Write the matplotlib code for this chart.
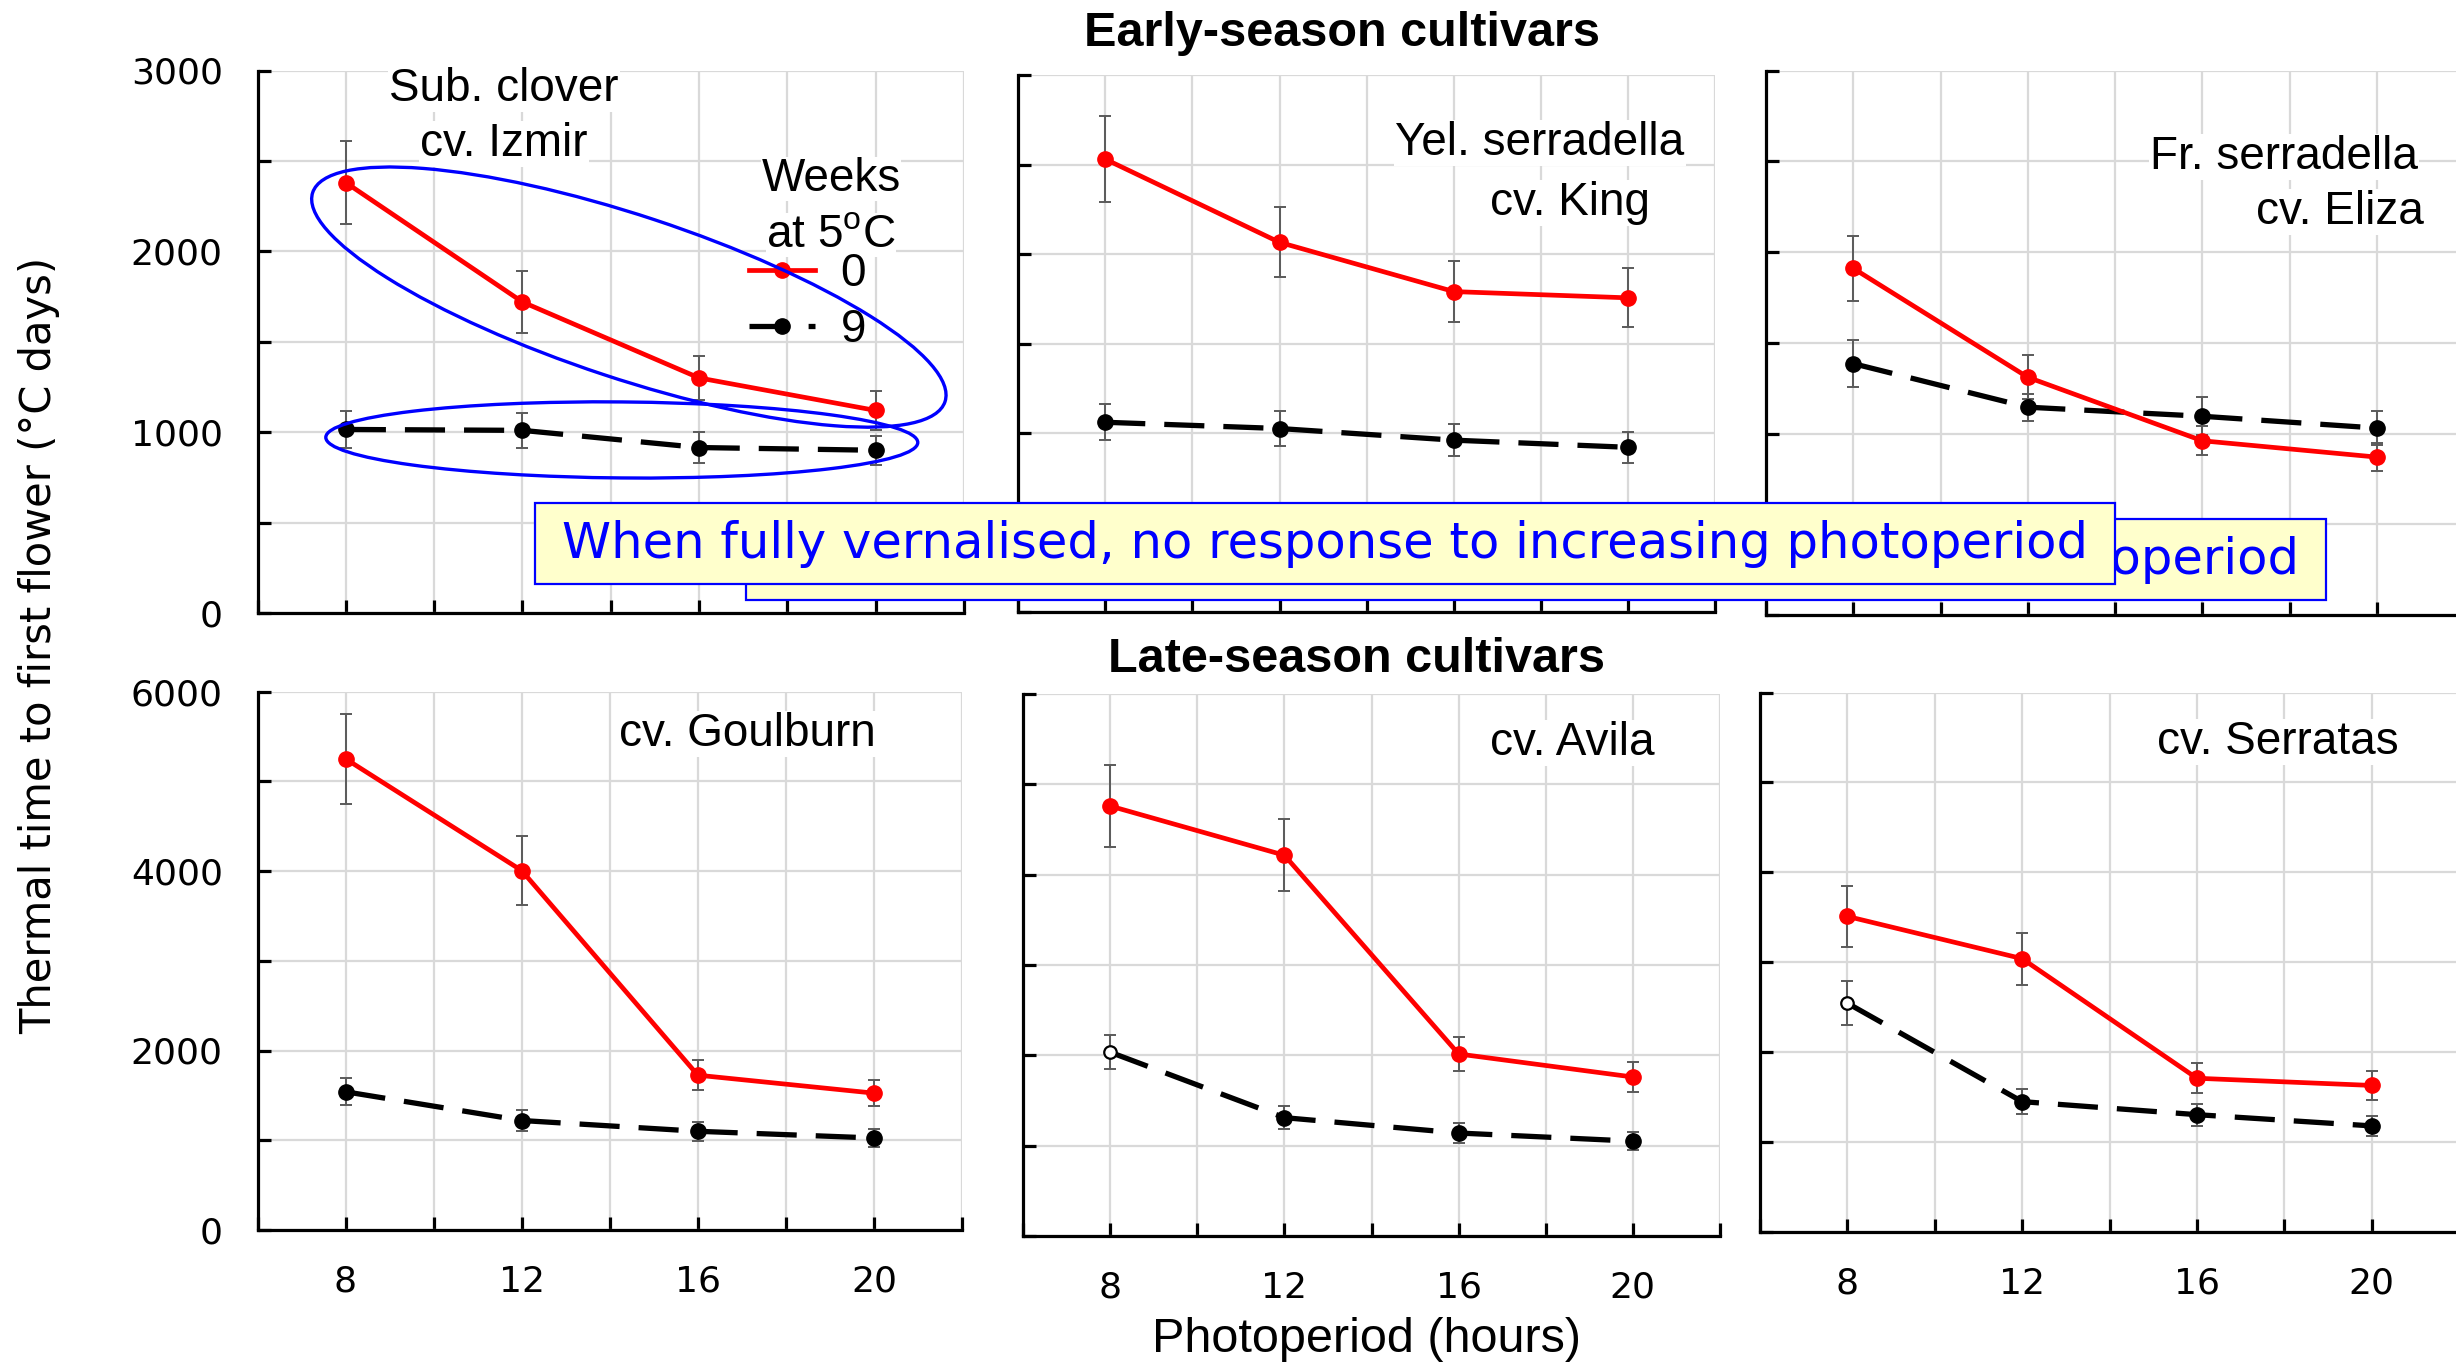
import matplotlib
matplotlib.use('Agg')
import matplotlib.pyplot as plt
from matplotlib.patches import Ellipse, Rectangle
from matplotlib.lines import Line2D
from matplotlib.transforms import IdentityTransform

plt.rcParams['mathtext.fontset'] = 'custom'
plt.rcParams['mathtext.rm'] = 'Liberation Sans'

W, H = 2456, 1367
ARIAL = ['Liberation Sans', 'DejaVu Sans']
GEO = ['DejaVu Sans']

# ---------------- data ----------------
photoperiod = [8, 12, 16, 20]

izmir_0 = [2380, 1720, 1300, 1120]
izmir_0_se = [230, 170, 120, 110]
izmir_9 = [1015, 1010, 915, 900]
izmir_9_se = [100, 95, 85, 80]

king_0 = [2530, 2065, 1790, 1755]
king_0_se = [240, 195, 170, 165]
king_9 = [1060, 1025, 960, 920]
king_9_se = [100, 98, 90, 87]

eliza_0 = [1910, 1310, 960, 870]
eliza_0_se = [180, 120, 80, 77]
eliza_9 = [1385, 1145, 1095, 1030]
eliza_9_se = [130, 75, 105, 95]

goulburn_0 = [5250, 4005, 1725, 1525]
goulburn_0_se = [500, 380, 170, 145]
goulburn_9 = [1540, 1220, 1100, 1025]
goulburn_9_se = [150, 120, 105, 100]

avila_0 = [4760, 4215, 2015, 1760]
avila_0_se = [450, 400, 190, 165]
avila_9 = [2035, 1310, 1140, 1050]
avila_9_se = [190, 125, 110, 98]

serratas_0 = [3510, 3040, 1710, 1630]
serratas_0_se = [335, 290, 165, 160]
serratas_9 = [2545, 1450, 1305, 1180]
serratas_9_se = [245, 138, 122, 115]

legend_labels = ['0', '9']
early_yticks = [0, 1000, 2000, 3000]
late_yticks = [0, 2000, 4000, 6000]
xtick_labels = ['8', '12', '16', '20']

# ---------------- figure ----------------
fig = plt.figure(figsize=(W / 100, H / 100), dpi=100)


def add_ax(l, r, t, b):
    return fig.add_axes([l / W, 1 - b / H, (r - l) / W, (b - t) / H])


def ftext(x, y, s, **kw):
    return fig.text(x / W, 1 - y / H, s, **kw)


panels = [
    ((257.5, 964, 70.5, 613), izmir_0, izmir_0_se, izmir_9, izmir_9_se, False, 'early', True),
    ((1018, 1715.5, 75, 612), king_0, king_0_se, king_9, king_9_se, False, 'early', False),
    ((1766, 2464, 70.5, 615), eliza_0, eliza_0_se, eliza_9, eliza_9_se, False, 'early', False),
    ((257.5, 962, 691.5, 1230), goulburn_0, goulburn_0_se, goulburn_9, goulburn_9_se, False, 'late', True),
    ((1023, 1720, 694, 1236), avila_0, avila_0_se, avila_9, avila_9_se, True, 'late', False),
    ((1760, 2459, 692.5, 1232), serratas_0, serratas_0_se, serratas_9, serratas_9_se, True, 'late', False),
]

RED_LW, BLK_LW, MS = 3.4, 3.8, 11
DASH = (7.6, 3.6)
axes = []
for (box, d0, s0, d9, s9, open_first, row, left) in panels:
    ax = add_ax(*box)
    axes.append(ax)
    ax.set_xlim(6, 22)
    if row == 'early':
        ax.set_ylim(0, 3000)
        ax.set_yticks(early_yticks)
        ax.set_yticks([500, 1500, 2500], minor=True)
    else:
        ax.set_ylim(0, 6000)
        ax.set_yticks(late_yticks)
        ax.set_yticks([1000, 3000, 5000], minor=True)
    ax.set_xticks(photoperiod)
    ax.set_xticklabels(xtick_labels)
    ax.set_xticks([6, 10, 14, 18, 22], minor=True)
    ax.grid(True, which='both', color='#d9d9d9', lw=1.6, zorder=0)
    ax.set_axisbelow(True)
    for sp in ('top', 'right'):
        ax.spines[sp].set_visible(False)
    for sp in ('left', 'bottom'):
        ax.spines[sp].set_linewidth(2.3)
        ax.spines[sp].set_color('black')
    ax.tick_params(which='both', direction='in', length=9.5, width=2.3,
                   labelsize=26, pad=25, colors='black')
    ax.tick_params(labelleft=left, labelbottom=(row == 'late'))
    for lab in ax.get_xticklabels() + ax.get_yticklabels():
        lab.set_family(GEO)

    ax.errorbar(photoperiod, d9, yerr=s9, fmt='none', ecolor='#5a5a5a',
                elinewidth=1.4, capsize=4.3, capthick=1.4, zorder=2)
    ax.errorbar(photoperiod, d0, yerr=s0, fmt='none', ecolor='#5a5a5a',
                elinewidth=1.4, capsize=4.3, capthick=1.4, zorder=2)
    if open_first:
        ax.plot(photoperiod, d9, color='black', lw=BLK_LW, dashes=DASH,
                marker='o', ms=MS, markevery=[1, 2, 3], zorder=3)
        ax.plot(photoperiod[:1], d9[:1], ls='none', marker='o', ms=9,
                mfc='white', mec='black', mew=1.6, zorder=3.5)
    else:
        ax.plot(photoperiod, d9, color='black', lw=BLK_LW, dashes=DASH,
                marker='o', ms=MS, zorder=3)
    ax.plot(photoperiod, d0, color='red', lw=RED_LW, marker='o', ms=MS, zorder=4)

# ---------------- legend ----------------
axTL = axes[0]
leg_title_kw = dict(ha='center', va='center', fontsize=33, family=ARIAL,
                    bbox=dict(fc='white', ec='none', pad=0), zorder=4.5,
                    transform=fig.transFigure, clip_on=False)
axTL.text(831 / W, 1 - 179 / H, 'Weeks', **leg_title_kw)
axTL.text(831 / W, 1 - 235 / H, 'at 5$^{\\mathrm{o}}$C', **leg_title_kw)

handles = [Line2D([], [], color='red', lw=RED_LW, marker='o', ms=MS),
           Line2D([], [], color='black', lw=BLK_LW, dashes=DASH, marker='o', ms=MS)]
leg = axTL.legend(handles, legend_labels,
                  loc='center left', bbox_to_anchor=(749 / W, 1 - 302 / H),
                  bbox_transform=fig.transFigure, frameon=False,
                  prop={'family': ARIAL, 'size': 33},
                  handlelength=1.45, handletextpad=0.55, labelspacing=0.27,
                  borderpad=0, borderaxespad=0)
leg.set_zorder(5)

# ---------------- panel labels ----------------
lab_kw = dict(ha='center', va='center', fontsize=33, family=ARIAL,
              bbox=dict(fc='white', ec='none', pad=1), zorder=4)
ftext(504, 89, 'Sub. clover', **lab_kw)
ftext(504, 144, 'cv. Izmir', **lab_kw)
ftext(1540, 143, 'Yel. serradella', **lab_kw)
ftext(1570, 203, 'cv. King', **lab_kw)
ftext(2284, 157, 'Fr. serradella', **lab_kw)
ftext(2340, 212, 'cv. Eliza', **lab_kw)
ftext(747, 734, 'cv. Goulburn', **lab_kw)
ftext(1572, 743, 'cv. Avila', **lab_kw)
ftext(2278, 742, 'cv. Serratas', **lab_kw)

# titles and axis labels
ftext(1342, 33, 'Early-season cultivars', ha='center', va='center',
      fontsize=35, fontweight='bold', family=ARIAL)
ftext(1356, 660, 'Late-season cultivars', ha='center', va='center',
      fontsize=35, fontweight='bold', family=ARIAL)
ftext(1366, 1340, 'Photoperiod (hours)', ha='center', va='center',
      fontsize=35, family=ARIAL)
ftext(39, 645, 'Thermal time to first flower (°C days)', ha='center', va='center',
      rotation=90, fontsize=30, family=GEO)

# ---------------- ellipses (annotation around series) ----------------
fig.canvas.draw()
red_c = axTL.transData.transform((14.41, 1747))
blk_c = axTL.transData.transform((14.25, 957))
fig.add_artist(Ellipse(red_c, 666, 163, angle=-18.3, transform=IdentityTransform(),
                       fill=False, ec='#0000ff', lw=2.4, zorder=6))
fig.add_artist(Ellipse(blk_c, 592, 76, angle=-0.5, transform=IdentityTransform(),
                       fill=False, ec='#0000ff', lw=2.4, zorder=6))

# ---------------- call-out boxes ----------------
msg = 'When fully vernalised, no response to increasing photoperiod'
boxes = [((746, 519), 8), ((535, 503), 10)]
texts = []
for (x0, y0), z in boxes:
    fig.add_artist(Rectangle((x0 / W, 1 - (y0 + 81) / H), 1580 / W, 81 / H,
                             transform=fig.transFigure, fc='#ffffcc', ec='#0000ff',
                             lw=1.6, zorder=z))
    texts.append(ftext(x0 + 790, y0 + 40.5, msg, ha='center', va='center',
                       color='#0000ff', fontsize=30, family=GEO, zorder=z + 1))
fig.canvas.draw()
bw = texts[0].get_window_extent().width
for t in texts:
    t.set_fontsize(30 * 1524 / bw)

fig.savefig('out.png', dpi=100)
